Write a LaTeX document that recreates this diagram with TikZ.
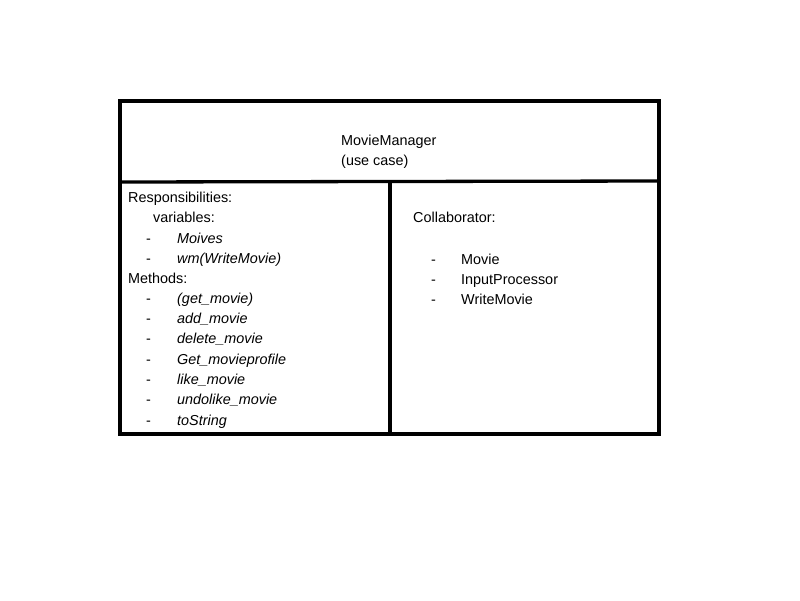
\documentclass[tikz,border=0pt]{standalone}
\usepackage{fontspec}
\setmainfont{Liberation Sans}
\begin{document}
\begin{tikzpicture}[x=1pt,y=-1pt,
  txt/.style={anchor=base west,inner sep=0pt,font=\fontsize{14.4}{17}\selectfont},
  it/.style={txt,font=\fontsize{14.4}{17}\selectfont\itshape},
  frame/.style={line width=3.3pt,line cap=rect}]
\useasboundingbox (0,0) rectangle (800,600);
\fill[white] (0,0) rectangle (800,600);
% frame
\coordinate (tl) at (120,101);
\coordinate (br) at (659,434);
\coordinate (hl) at (120,182);
\coordinate (hr) at (659,181);
\coordinate (dt) at (390,184);
\coordinate (db) at (390,434);
\draw[frame] (tl) rectangle (br);
\draw[frame] (hl) -- (hr);
\draw[frame] (dt) -- (db);
% header
\node[txt] (title) at (341,145) {MovieManager};
\node[txt] (uc) at (341,165) {(use case)};
% left
\node[txt] (resp) at (128,202) {Responsibilities:};
\node[txt] (vars) at (153,222) {variables:};
\node[txt] (d1) at (146,243) {-};
\node[it] (v1) at (177,243) {Moives};
\node[txt] (d2) at (146,263) {-};
\node[it] (v2) at (177,263) {wm(WriteMovie)};
\node[txt] (meth) at (128,283) {Methods:};
\foreach \t [count=\i] in {(get\_movie),add\_movie,delete\_movie,Get\_movieprofile,like\_movie,undolike\_movie,toString}{
  \node[txt] (md\i) at (146,{283+20.3*\i}) {-};
  \node[it] (m\i) at (177,{283+20.3*\i}) {\t};
}
% right
\node[txt] (coll) at (413,222) {Collaborator:};
\node[txt] (c1d) at (431,264) {-};
\node[txt] (c1) at (461,264) {Movie};
\node[txt] (c2d) at (431,284) {-};
\node[txt] (c2) at (461,284) {InputProcessor};
\node[txt] (c3d) at (431,304) {-};
\node[txt] (c3) at (461,304) {WriteMovie};
\end{tikzpicture}
\end{document}
